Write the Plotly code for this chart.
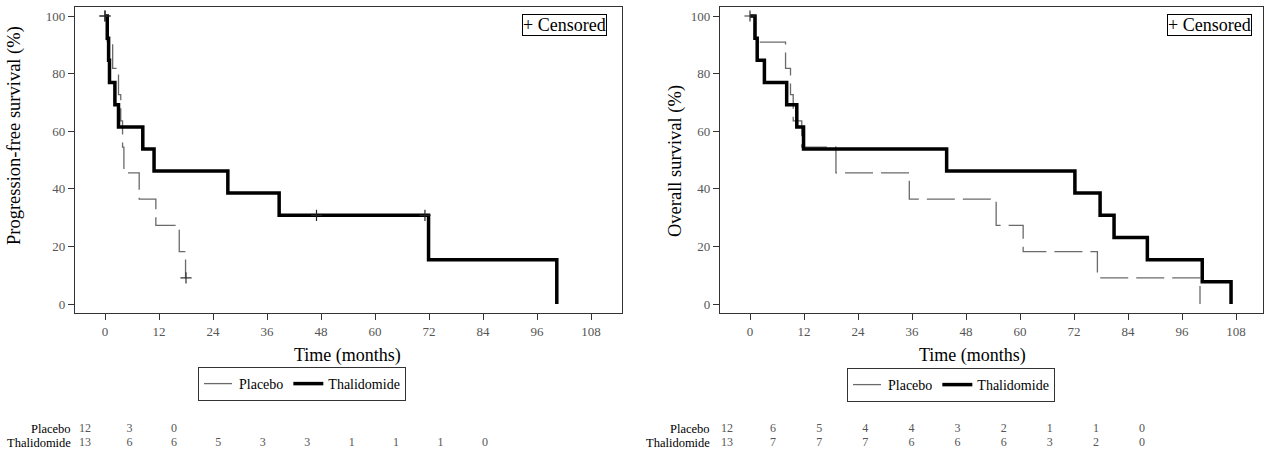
import plotly.graph_objects as go

W, H = 1264, 457
FONT = "Liberation Serif"

# ---------------- data ----------------
risk_times = [0, 12, 24, 36, 48, 60, 72, 84, 96, 108]
x_ticks = [0, 12, 24, 36, 48, 60, 72, 84, 96, 108]
y_ticks = [0, 20, 40, 60, 80, 100]

# Progression-free survival
pfs_placebo_t = [0, 0.5, 1.7, 3.0, 3.5, 3.9, 4.2, 7.6, 11.3, 16.5, 17.9, 18.0]
pfs_placebo_s = [100, 90.9, 81.8, 72.7, 63.6, 54.5, 45.5, 36.4, 27.3, 18.2, 9.1, 9.1]
pfs_placebo_cens_t = [0, 18.0]
pfs_placebo_cens_s = [100, 9.1]
pfs_thal_t = [0, 0.5, 0.8, 1.0, 2.2, 3.0, 8.4, 10.9, 27.3, 38.7, 71.9, 100.4]
pfs_thal_s = [100, 92.3, 84.6, 76.9, 69.2, 61.5, 53.8, 46.2, 38.5, 30.8, 15.4, 0]
pfs_thal_cens_t = [0, 47.0, 71.1]
pfs_thal_cens_s = [100, 30.8, 30.8]
pfs_risk_placebo = [12, 3, 0]
pfs_risk_thal = [13, 6, 6, 5, 3, 3, 1, 1, 1, 0]

# Overall survival
os_placebo_t = [0, 1.3, 7.9, 9.0, 9.6, 11.5, 19.1, 35.4, 54.7, 60.7, 77.2, 100.0]
os_placebo_s = [100, 90.9, 81.8, 72.7, 63.6, 54.5, 45.5, 36.4, 27.3, 18.2, 9.1, 0]
os_placebo_cens_t = [0]
os_placebo_cens_s = [100]
os_thal_t = [0, 1.1, 1.6, 3.2, 8.15, 10.4, 11.9, 43.7, 72.2, 77.8, 80.9, 88.3, 100.5, 106.9]
os_thal_s = [100, 92.3, 84.6, 76.9, 69.2, 61.5, 53.8, 46.2, 38.5, 30.8, 23.1, 15.4, 7.7, 0]
os_risk_placebo = [12, 6, 5, 4, 4, 3, 2, 1, 1, 0]
os_risk_thal = [13, 7, 7, 7, 6, 6, 6, 3, 2, 0]

# ---------------- layout helpers ----------------
def px(v):
    return v / W

def py(v):
    return 1 - v / H

PLACEBO_COLOR = "#6a6a6a"
THAL_COLOR = "#000000"

fig = go.Figure()

def add_panel(xa, ya, legend, pt, ps, pct, pcs, tt, ts, tct, tcs):
    fig.add_trace(go.Scatter(x=pt, y=ps, mode="lines", line=dict(shape="hv", color=PLACEBO_COLOR, width=1.3, dash="28px,8px"),
                             name="Placebo", xaxis=xa, yaxis=ya, legend=legend, showlegend=True))
    fig.add_trace(go.Scatter(x=tt, y=ts, mode="lines", line=dict(shape="hv", color=THAL_COLOR, width=3.5),
                             name="Thalidomide", xaxis=xa, yaxis=ya, legend=legend, showlegend=True))
    fig.add_trace(go.Scatter(x=pct, y=pcs, mode="markers", marker=dict(symbol="cross-thin", size=8, line=dict(width=1.2, color="#333")),
                             xaxis=xa, yaxis=ya, showlegend=False, hoverinfo="skip"))
    fig.add_trace(go.Scatter(x=tct, y=tcs, mode="markers", marker=dict(symbol="cross-thin", size=8, line=dict(width=1.2, color="#222")),
                             xaxis=xa, yaxis=ya, showlegend=False, hoverinfo="skip"))

add_panel("x", "y", "legend", pfs_placebo_t, pfs_placebo_s, pfs_placebo_cens_t, pfs_placebo_cens_s,
          pfs_thal_t, pfs_thal_s, pfs_thal_cens_t, pfs_thal_cens_s)
add_panel("x2", "y2", "legend2", os_placebo_t, os_placebo_s, os_placebo_cens_t, os_placebo_cens_s,
          os_thal_t, os_thal_s, [], [])

# numbers at risk
def add_risk(xa, ya, placebo, thal):
    fig.add_trace(go.Scatter(x=risk_times[:len(placebo)], y=[1] * len(placebo), mode="text",
                             text=[str(v) for v in placebo], textfont=dict(family=FONT, size=12, color="#555"),
                             xaxis=xa, yaxis=ya, showlegend=False, cliponaxis=False, hoverinfo="skip"))
    fig.add_trace(go.Scatter(x=risk_times[:len(thal)], y=[0] * len(thal), mode="text",
                             text=[str(v) for v in thal], textfont=dict(family=FONT, size=12, color="#555"),
                             xaxis=xa, yaxis=ya, showlegend=False, cliponaxis=False, hoverinfo="skip"))

add_risk("x3", "y3", pfs_risk_placebo, pfs_risk_thal)
add_risk("x4", "y3", os_risk_placebo, os_risk_thal)

ydom = [py(313), py(7)]
common_x = dict(tickmode="array", tickvals=x_ticks, ticks="outside", ticklen=6, tickcolor="#333",
                showline=True, linecolor="#333", linewidth=1.3, mirror=True, showgrid=False, zeroline=False,
                automargin=False, tickfont=dict(family=FONT, size=13, color="#555"))
common_y = dict(tickmode="array", tickvals=y_ticks, ticks="outside", ticklen=6, tickcolor="#333",
                showline=True, linecolor="#333", linewidth=1.3, mirror=True, showgrid=False, zeroline=False,
                automargin=False, range=[-3.125, 103.125], domain=ydom,
                tickfont=dict(family=FONT, size=13, color="#555"))

fig.update_layout(
    width=W, height=H,
    margin=dict(l=0, r=0, t=0, b=0, autoexpand=False),
    paper_bgcolor="white", plot_bgcolor="white",
    font=dict(family=FONT, color="#000"),
    xaxis=dict(common_x, domain=[px(75), px(622)], range=[-6.667, 114.89], anchor="y"),
    yaxis=dict(common_y, anchor="x"),
    xaxis2=dict(common_x, domain=[px(720), px(1263)], range=[-6.667, 114.0], anchor="y2"),
    yaxis2=dict(common_y, anchor="x2"),
    xaxis3=dict(domain=[px(85), px(485)], range=[0, 108], visible=False, anchor="y3", automargin=False),
    xaxis4=dict(domain=[px(727), px(1142)], range=[0, 108], visible=False, anchor="y3", automargin=False),
    yaxis3=dict(domain=[py(443), py(429)], range=[0, 1], visible=False, anchor="x3", automargin=False),
    legend=dict(orientation="h", x=px(198), y=py(367), xanchor="left", yanchor="top",
                bordercolor="#333", borderwidth=1, font=dict(family=FONT, size=14), itemwidth=30,
                tracegroupgap=0),
    legend2=dict(orientation="h", x=px(847), y=py(368), xanchor="left", yanchor="top",
                 bordercolor="#333", borderwidth=1, font=dict(family=FONT, size=14), itemwidth=30,
                 tracegroupgap=0),
    showlegend=True,
)

# axis titles
for x, y, txt in [(px(15), py(136), "Progression-free survival (%)"), (px(675), py(161), "Overall survival (%)")]:
    fig.add_annotation(x=x, y=y, xref="paper", yref="paper", text=txt, textangle=-90, showarrow=False,
                       xanchor="center", yanchor="middle", font=dict(family=FONT, size=18.5, color="#000"))
for x in [px(347), px(972)]:
    fig.add_annotation(x=x, y=py(355), xref="paper", yref="paper", text="Time (months)", showarrow=False,
                       xanchor="center", yanchor="middle", font=dict(family=FONT, size=18, color="#000"))

# row labels for the risk table
for xr in [px(73), px(712)]:
    fig.add_annotation(x=xr, y=1, xref="paper", yref="y3", text="Placebo", showarrow=False, xanchor="right",
                       yanchor="middle", font=dict(family=FONT, size=12.5, color="#000"))
    fig.add_annotation(x=xr, y=0, xref="paper", yref="y3", text="Thalidomide", showarrow=False, xanchor="right",
                       yanchor="middle", font=dict(family=FONT, size=12.5, color="#000"))

# "+ Censored" boxes
for xl in [px(522), px(1167)]:
    fig.add_annotation(x=xl, y=py(14.5), xref="paper", yref="paper", text="+ Censored", showarrow=False,
                       xanchor="left", yanchor="top", bordercolor="#000", borderwidth=1, borderpad=0,
                       font=dict(family=FONT, size=18, color="#000"), bgcolor="white")

fig.write_html("out.html", config={"displayModeBar": False},
               post_script="document.body.style.margin='0px';document.body.style.overflow='hidden';")
